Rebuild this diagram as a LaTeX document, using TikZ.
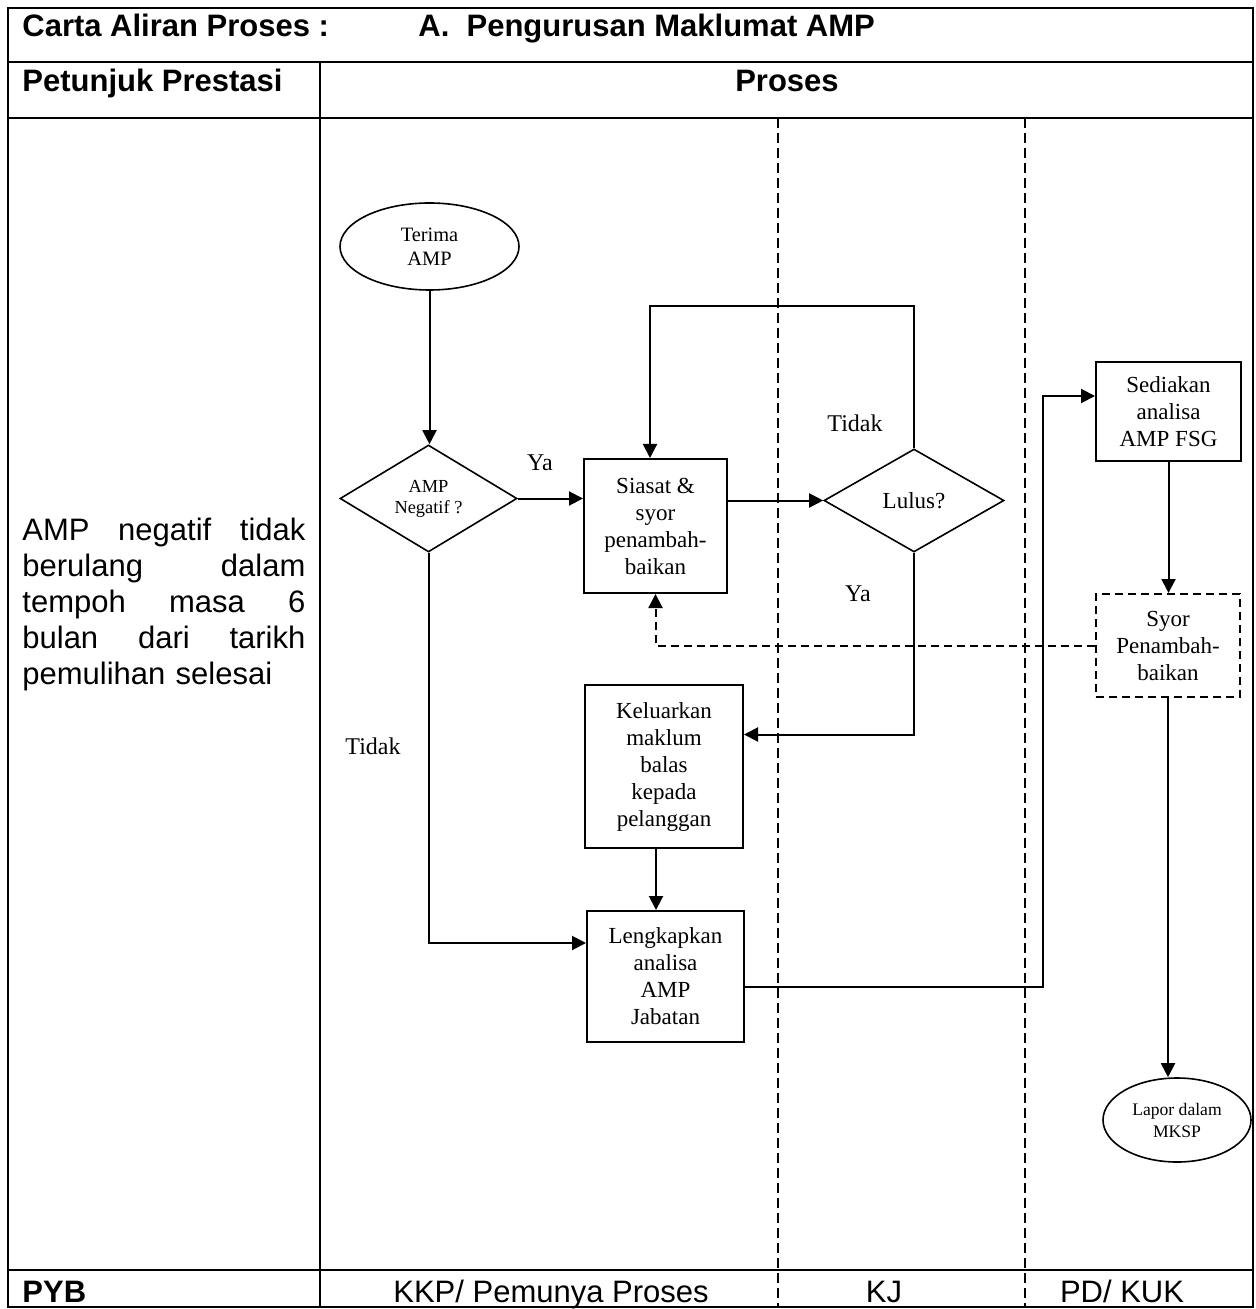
\documentclass[tikz,border=0pt]{standalone}
\usepackage{fontspec}
\setmainfont{Liberation Serif}
\newfontfamily\arial{Liberation Sans}
\usetikzlibrary{shapes.geometric,arrows.meta,calc}
\tikzset{
  frameline/.style={line width=1pt},
  laneline/.style={line width=1pt, dash pattern=on 5pt off 2.5pt},
  proc/.style={draw, line width=1pt, rectangle, inner sep=0pt, align=center, font=\fontsize{11.5}{13.5}\selectfont},
  dashbox/.style={dash pattern=on 4pt off 2.5pt},
  term/.style={draw, line width=0.8pt, ellipse, inner sep=0pt, align=center},
  decision/.style={draw, line width=0.8pt, diamond, inner sep=0pt, align=center},
  arr/.style={line width=1pt, -{Triangle[length=7pt,width=7pt]}},
  dashline/.style={dash pattern=on 4pt off 2.5pt},
  lbl/.style={font=\fontsize{12}{14}\selectfont, inner sep=0pt},
  hdr/.style={font=\arial\bfseries\fontsize{15.5}{18}\selectfont, inner sep=0pt},
  foot/.style={font=\arial\fontsize{15.5}{18}\selectfont, inner sep=0pt},
}
\newcommand{\jline}[1]{\leavevmode\hbox to 141.5pt{#1}}
\begin{document}
\begin{tikzpicture}[x=0.5pt,y=-0.5pt]
\useasboundingbox (0,0) rectangle (1255,1309);
% table frame
\draw[frameline] (8,8) rectangle (1253,1307);
\draw[frameline] (8,62) -- (1253,62);
\draw[frameline] (8,118) -- (1253,118);
\draw[frameline] (8,1270) -- (1253,1270);
\draw[line width=0.8pt] (320,62) -- (320,1307);
\draw[laneline] (778,118) -- (778,1307);
\draw[laneline] (1025,118) -- (1025,1307);
% headers
\node[hdr, anchor=base west] (t1) at (22,37) {Carta Aliran Proses :};
\node[hdr, anchor=base west] (t2) at (418,37) {A.\ \ Pengurusan Maklumat AMP};
\node[hdr, anchor=base west] (h1) at (22,92) {Petunjuk Prestasi};
\node[hdr, anchor=base] (h2) at (787,92) {Proses};
% footer
\node[hdr, anchor=base west] (f1) at (22,1302) {PYB};
\node[foot, anchor=base] (f2) at (551,1302) {KKP/ Pemunya Proses};
\node[foot, anchor=base] (f3) at (884,1302) {KJ};
\node[foot, anchor=base] (f4) at (1122,1302) {PD/ KUK};
% performance indicator
\node[anchor=north west, text width=141.5pt, align=left, inner sep=0pt, font=\arial\fontsize{15.5}{18}\selectfont] (pi) at (22,518)
 {\jline{AMP\hfill negatif\hfill tidak}\\
  \jline{berulang\hfill dalam}\\
  \jline{tempoh\hfill masa\hfill 6}\\
  \jline{bulan\hfill dari\hfill tarikh}\\
  pemulihan selesai};
% flowchart nodes
\node[term, minimum width=89.5pt, minimum height=43.5pt, font=\fontsize{10.2}{12}\selectfont] (start) at (429.5,246.5) {Terima\\AMP};
\node[decision, minimum width=88.5pt, minimum height=53.5pt, font=\fontsize{9.2}{10.5}\selectfont] (dec1) at (428.5,498.5) {AMP\\Negatif ?};
\node[proc, minimum width=71.5pt, minimum height=67pt] (siasat) at (655.5,526) {Siasat \&\\syor\\penambah-\\baikan};
\node[decision, minimum width=90pt, minimum height=51.5pt, font=\fontsize{11.5}{13.5}\selectfont] (lulus) at (914,500.5) {Lulus?};
\node[proc, minimum width=72.5pt, minimum height=49.5pt] (sediakan) at (1168.5,411.5) {Sediakan\\analisa\\AMP FSG};
\node[proc, dashbox, minimum width=72pt, minimum height=51.5pt] (syor) at (1168,645.5) {Syor\\Penambah-\\baikan};
\node[proc, minimum width=79pt, minimum height=81.5pt] (keluar) at (664,766.5) {Keluarkan\\maklum\\balas\\kepada\\pelanggan};
\node[proc, minimum width=78.5pt, minimum height=65.5pt] (lengkap) at (665.5,976.5) {Lengkapkan\\analisa\\AMP\\Jabatan};
\node[term, minimum width=74pt, minimum height=42pt, font=\fontsize{8.8}{11}\selectfont] (lapor) at (1177,1120) {Lapor dalam\\MKSP};
% connectors
\draw[arr] (start.south) -- (start.south |- dec1.north);
\draw[arr] (dec1.east) -- (dec1.east -| siasat.west);
\draw[arr] (lulus.west -| siasat.east) -- (lulus.west);
\draw[arr] (lulus.north) -- ++(0,-142) -| ([xshift=-2.75pt]siasat.north);
\draw[arr] (lulus.south) |- ([yshift=16pt]keluar.east);
\draw[arr] ([xshift=-4pt]keluar.south) -- ([xshift=-4pt]keluar.south |- lengkap.north);
\draw[arr] (dec1.south) |- ([yshift=16.75pt]lengkap.west);
\draw[arr] ([yshift=-5.25pt]lengkap.east) -- ++(298,0) |- ([yshift=7.75pt]sediakan.west);
\draw[arr] (sediakan.south) -- (sediakan.south |- syor.north);
\draw[arr, dashline] (syor.west) -| (siasat.south);
\draw[arr] (syor.south) -- (syor.south |- lapor.north);
% labels
\node[lbl] (ya1) at (540,463) {Ya};
\node[lbl] (tidak1) at (373,746) {Tidak};
\node[lbl] (tidak2) at (855,423) {Tidak};
\node[lbl] (ya2) at (858,594) {Ya};
\end{tikzpicture}
\end{document}
